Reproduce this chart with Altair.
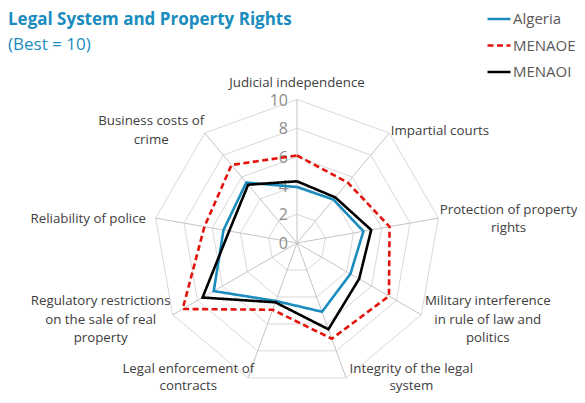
import math
import altair as alt
import pandas as pd

# ---------------- data ----------------
categories = [
    "Judicial independence",
    "Impartial courts",
    "Protection of property rights",
    "Military interference in rule of law and politics",
    "Integrity of the legal system",
    "Legal enforcement of contracts",
    "Regulatory restrictions on the sale of real property",
    "Reliability of police",
    "Business costs of crime",
]
label_lines = [
    ["Judicial independence"],
    ["Impartial courts"],
    ["Protection of property", "rights"],
    ["Military interference", "in rule of law and", "politics"],
    ["Integrity of the legal", "system"],
    ["Legal enforcement of", "contracts"],
    ["Regulatory restrictions", "on the sale of real", "property"],
    ["Reliability of police"],
    ["Business costs of", "crime"],
]
series_names = ["Algeria", "MENAOE", "MENAOI"]
algeria = [3.9, 3.95, 4.7, 4.3, 5.1, 4.3, 6.7, 5.2, 5.5]
menaoe = [6.1, 5.5, 6.55, 7.4, 7.1, 4.95, 9.2, 6.55, 7.1]
menaoi = [4.3, 4.15, 5.25, 5.0, 6.4, 4.4, 7.6, 4.8, 5.3]
ring_levels = [0, 2, 4, 6, 8, 10]

colors = ["#1a8cbd", "#e3120b", "#000000"]
title_blue = "#1a8cbd"
FONT = "Segoe UI, Open Sans, sans-serif"

# ---------------- geometry ----------------
N = len(categories)
W, H = 569, 387
PX = 14.35            # pixels per unit
CX, CY = 289, 235     # center in plot coordinates
x_dom = [-CX / PX, (W - CX) / PX]
y_dom = [-(H - CY) / PX, CY / PX]
xs = alt.Scale(domain=x_dom, nice=False, zero=False)
ys = alt.Scale(domain=y_dom, nice=False, zero=False)
TWO_PI_N = 2 * math.pi / N

# series table (polygon closed by repeating the first point)
rows = []
for name, vals in zip(series_names, [algeria, menaoe, menaoi]):
    for i in range(N + 1):
        rows.append({"series": name, "idx": i, "value": vals[i % N]})
series_df = pd.DataFrame(rows)

ring_rows = []
for lv in ring_levels[1:]:
    for i in range(N + 1):
        ring_rows.append({"level": lv, "idx": i})
ring_df = pd.DataFrame(ring_rows)

spoke_df = pd.DataFrame({"idx": list(range(N)), "r": [10] * N})

# category labels (layout derived from label text)
LINE_H = 18.5
LINE_H_BOTTOM = 17
CHAR_W = 5.6
lab_rows = []
for i, lines in enumerate(label_lines):
    a = i * TWO_PI_N
    s, c = math.sin(a), math.cos(a)
    R = 10.05
    ax, ay = s * R, c * R
    n = len(lines)
    halfw = max(len(t) for t in lines) * CHAR_W / 2
    halfh = n * LINE_H / 2
    gap = 1 + 7 * abs(s)
    if s > 0.05:
        ox = halfw + gap
    elif s < -0.05:
        ox = -(halfw + gap)
    else:
        ox = 0
    grp = "mid"
    if c > 0.9:
        oy = halfh + 7
        y_first = ay + (oy + (n - 1) * LINE_H / 2) / PX
    elif c < -0.9:
        grp = "bottom"
        y_first = ay + 10 / PX
    else:
        oy = c * 5 - 2
        y_first = ay + (oy + (n - 1) * LINE_H / 2) / PX
    lab_rows.append({"label": lines, "x": ax + ox / PX, "y": y_first, "grp": grp})
lab_df = pd.DataFrame(lab_rows)

ring_lab_df = pd.DataFrame({"level": ring_levels, "text": [str(v) for v in ring_levels]})

# ---------------- layers ----------------
calc_xy = dict(ang=f"datum.idx * {TWO_PI_N}")

rings = alt.Chart(ring_df).transform_calculate(**calc_xy).transform_calculate(
    x="sin(datum.ang) * datum.level", y="cos(datum.ang) * datum.level"
).mark_line(color="#d9d9d9", strokeWidth=1).encode(
    x=alt.X("x:Q", scale=xs, axis=None),
    y=alt.Y("y:Q", scale=ys, axis=None),
    detail="level:N",
    order="idx:Q",
)

spokes = alt.Chart(spoke_df).transform_calculate(**calc_xy).transform_calculate(
    x0="0", y0="0",
    x="sin(datum.ang) * datum.r", y="cos(datum.ang) * datum.r",
).mark_rule(color="#c4c4c4", strokeWidth=1).encode(
    x=alt.X("x0:Q", scale=xs, axis=None),
    y=alt.Y("y0:Q", scale=ys, axis=None),
    x2="x:Q",
    y2="y:Q",
)

ring_labels = alt.Chart(ring_lab_df).mark_text(
    align="right", baseline="middle", dx=-9, dy=1, fontSize=16, color="#8c8c8c", font=FONT
).encode(
    x=alt.X("zero:Q", scale=xs, axis=None),
    y=alt.Y("level:Q", scale=ys, axis=None),
    text="text:N",
).transform_calculate(zero="0")

cat_labels = alt.Chart(lab_df).transform_filter("datum.grp == 'mid'").mark_text(
    align="center", baseline="middle", fontSize=13.3, color="#404040", font=FONT,
    lineHeight=LINE_H,
).encode(
    x=alt.X("x:Q", scale=xs, axis=None),
    y=alt.Y("y:Q", scale=ys, axis=None),
    text="label",
)

cat_labels_bottom = alt.Chart(lab_df).transform_filter("datum.grp == 'bottom'").mark_text(
    align="center", baseline="middle", fontSize=13.3, color="#404040", font=FONT,
    lineHeight=LINE_H_BOTTOM,
).encode(
    x=alt.X("x:Q", scale=xs, axis=None),
    y=alt.Y("y:Q", scale=ys, axis=None),
    text="label",
)

lines = alt.Chart(series_df).transform_calculate(**calc_xy).transform_calculate(
    x="sin(datum.ang) * datum.value", y="cos(datum.ang) * datum.value"
).mark_line(strokeWidth=2.6, strokeJoin="miter").encode(
    x=alt.X("x:Q", scale=xs, axis=None),
    y=alt.Y("y:Q", scale=ys, axis=None),
    color=alt.Color("series:N", scale=alt.Scale(domain=series_names, range=colors),
                    legend=alt.Legend(title=None)),
    strokeDash=alt.StrokeDash("series:N",
                              scale=alt.Scale(domain=series_names, range=[[1, 0], [6, 3.5], [1, 0]]),
                              legend=alt.Legend(title=None)),
    order="idx:Q",
)

title_df = pd.DataFrame({"t": ["Legal System and Property Rights"]})
sub_df = pd.DataFrame({"t": ["(Best = 10)"]})
title_txt = alt.Chart(title_df).mark_text(
    align="left", baseline="middle", fontSize=17, fontWeight="bold", color=title_blue, font=FONT
).encode(x=alt.value(0), y=alt.value(12), text="t:N")
sub_txt = alt.Chart(sub_df).mark_text(
    align="left", baseline="middle", fontSize=17, color=title_blue, font=FONT
).encode(x=alt.value(0), y=alt.value(37), text="t:N")

chart = alt.layer(rings, spokes, ring_labels, cat_labels, cat_labels_bottom, lines,
                  title_txt, sub_txt).properties(
    width=W, height=H,
    autosize=alt.AutoSizeParams(type="none"),
    padding=0,
).configure_view(stroke=None).configure_legend(
    orient="none", legendX=478, legendY=-2,
    symbolType="stroke", symbolSize=529, symbolStrokeWidth=2.6,
    labelFontSize=15, labelColor="#595959", labelFont=FONT, labelOffset=1,
    labelLimit=300, rowPadding=5.5,
)

chart.save("out.html", embed_options={"renderer": "svg", "actions": False})
